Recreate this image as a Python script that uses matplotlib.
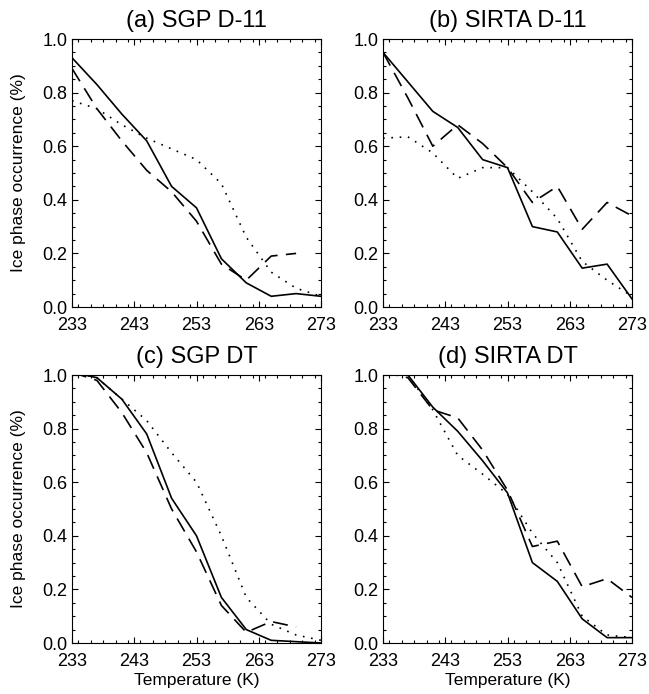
import numpy as np
import matplotlib
matplotlib.use("Agg")
import matplotlib.pyplot as plt
from matplotlib.ticker import MultipleLocator

plt.rcParams['font.family'] = ['Liberation Sans', 'DejaVu Sans']

temps = [233, 237, 241, 245, 249, 253, 257, 261, 265, 269, 273]
nan = np.nan

titles = ["(a) SGP D-11", "(b) SIRTA D-11", "(c) SGP DT", "(d) SIRTA DT"]

# panel (a) SGP D-11
a_solid  = [0.93, 0.83, 0.72, 0.62, 0.45, 0.37, 0.18, 0.09, 0.04, 0.05, 0.04]
a_dashed = [0.89, 0.74, 0.62, 0.51, 0.43, 0.32, 0.16, 0.10, 0.19, 0.20, nan]
a_dotted = [0.77, 0.74, 0.68, 0.63, 0.59, 0.55, 0.46, 0.26, 0.13, 0.07, 0.04]

# panel (b) SIRTA D-11
b_solid  = [0.95, 0.84, 0.73, 0.67, 0.55, 0.52, 0.30, 0.28, 0.145, 0.16, 0.03]
b_dashed = [0.95, 0.78, 0.60, 0.68, 0.61, 0.52, 0.39, 0.45, 0.29, 0.39, 0.34]
b_dotted = [0.63, 0.635, 0.575, 0.48, 0.52, 0.52, 0.43, 0.33, 0.17, 0.10, 0.04]

# panel (c) SGP DT
c_solid  = [1.01, 0.99, 0.91, 0.78, 0.54, 0.40, 0.17, 0.05, 0.01, 0.005, 0.0]
c_dashed = [1.01, 0.98, 0.86, 0.71, 0.50, 0.34, 0.14, 0.04, 0.08, 0.06, nan]
c_dotted = [1.01, 0.99, 0.91, 0.83, 0.71, 0.60, 0.40, 0.17, 0.07, 0.03, 0.01]

# panel (d) SIRTA DT
d_solid  = [1.01, 1.00, 0.88, 0.79, 0.68, 0.56, 0.30, 0.23, 0.09, 0.02, 0.02]
d_dashed = [1.01, 0.99, 0.87, 0.84, 0.72, 0.57, 0.36, 0.38, 0.21, 0.24, 0.17]
d_dotted = [1.01, 1.00, 0.87, 0.70, 0.63, 0.555, 0.41, 0.30, 0.10, 0.03, 0.02]

panels = [
    (a_solid, a_dashed, a_dotted),
    (b_solid, b_dashed, b_dotted),
    (c_solid, c_dashed, c_dotted),
    (d_solid, d_dashed, d_dotted),
]

W, H = 649, 694
fig = plt.figure(figsize=(W / 100, H / 100), dpi=100)

lefts = [72, 383]
tops = [39, 375]
aw, ah = 249, 268

lw = 1.2
for i, (sol, das, dot) in enumerate(panels):
    r, c = divmod(i, 2)
    l = lefts[c]
    t = tops[r]
    ax = fig.add_axes([l / W, 1 - (t + ah) / H, aw / W, ah / H])
    ax.plot(temps, sol, color='black', lw=lw, linestyle='-')
    ax.plot(temps, das, color='black', lw=lw, linestyle=(0, (9, 5)))
    ax.plot(temps, dot, color='black', lw=lw, linestyle=(0, (1, 4)))
    ax.set_xlim(233, 273)
    ax.set_ylim(0.0, 1.0)
    ax.xaxis.set_major_locator(MultipleLocator(10))
    ax.xaxis.set_minor_locator(MultipleLocator(2))
    ax.yaxis.set_major_locator(MultipleLocator(0.2))
    ax.yaxis.set_minor_locator(MultipleLocator(0.05))
    ax.set_yticks([0.0, 0.2, 0.4, 0.6, 0.8, 1.0])
    ax.set_yticklabels(["0.0", "0.2", "0.4", "0.6", "0.8", "1.0"])
    ax.set_xticks([233, 243, 253, 263, 273])
    ax.tick_params(which='both', direction='in', top=True, right=True,
                   width=0.8, labelsize=13)
    ax.tick_params(which='major', length=4.5)
    ax.tick_params(which='minor', length=2.2)
    ax.tick_params(axis='x', pad=7.5)
    ax.tick_params(axis='y', pad=3.5)
    for sp in ax.spines.values():
        sp.set_linewidth(0.8)
    ax.set_title(titles[i], fontsize=17, pad=9)
    if c == 0:
        ax.set_ylabel("Ice phase occurrence (%)", fontsize=12.5)
        ax.yaxis.set_label_coords(-0.185, 0.5)
    if r == 1:
        ax.set_xlabel("Temperature (K)", fontsize=12.5, labelpad=2)

fig.savefig("out.png", dpi=100)
